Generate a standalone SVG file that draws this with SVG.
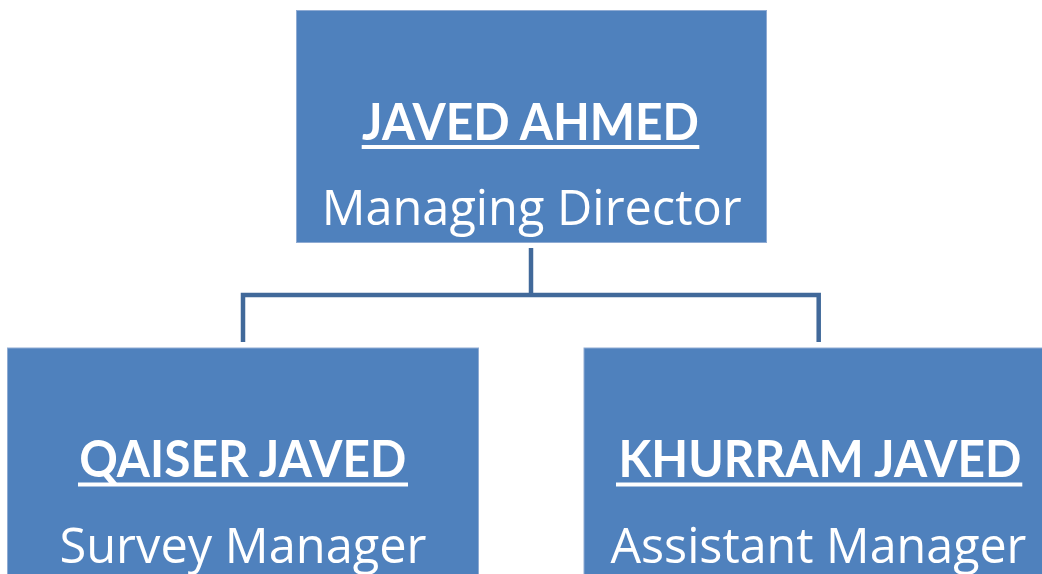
<svg xmlns="http://www.w3.org/2000/svg" width="1042" height="574" viewBox="0 0 1042 574">
<style>
.box{fill:#4f81bd;stroke:#8fabd3;stroke-width:1}
.name{font-family:Lato,"Open Sans","Liberation Sans",sans-serif;font-weight:bold;font-size:51px;fill:#fff;text-anchor:middle}
.role{font-family:"Open Sans","Liberation Sans",sans-serif;font-size:49px;fill:#fff;text-anchor:middle}
.ul{stroke:#fff;stroke-width:4}
.conn{fill:none;stroke:#41699a;stroke-width:4.5;stroke-linejoin:miter}
</style>
<rect width="1042" height="574" fill="#fff"/>
<g id="connectors">
<path class="conn" d="M531,248 V295"/>
<path class="conn" d="M243,342 V295 H818.7 V342"/>
</g>
<g id="node-javed-ahmed">
<rect class="box" x="296.5" y="10.5" width="470" height="232"/>
<text class="name" x="530.5" y="140" textLength="337" lengthAdjust="spacingAndGlyphs">JAVED AHMED</text>
<line class="ul" x1="361.7" y1="147" x2="699.3" y2="147"/>
<text class="role" x="531.7" y="225" textLength="420" lengthAdjust="spacingAndGlyphs">Managing Director</text>
</g>
<g id="node-qaiser-javed">
<rect class="box" x="7.5" y="348" width="471" height="240"/>
<text class="name" x="242.8" y="477" textLength="327" lengthAdjust="spacingAndGlyphs">QAISER JAVED</text>
<line class="ul" x1="78" y1="484.5" x2="408" y2="484.5"/>
<text class="role" x="243" y="563" textLength="367" lengthAdjust="spacingAndGlyphs">Survey Manager</text>
</g>
<g id="node-khurram-javed">
<rect class="box" x="584" y="348" width="470" height="240"/>
<text class="name" x="820" y="477" textLength="403" lengthAdjust="spacingAndGlyphs">KHURRAM JAVED</text>
<line class="ul" x1="616" y1="484.5" x2="1022.3" y2="484.5"/>
<text class="role" x="818.4" y="563" textLength="416" lengthAdjust="spacingAndGlyphs">Assistant Manager</text>
</g>
</svg>
